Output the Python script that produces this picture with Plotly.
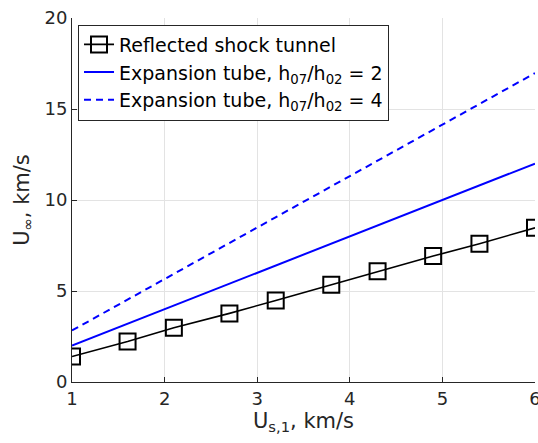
import plotly.graph_objects as go

# Incident shock speed (km/s) and test-flow velocity for the reflected shock tunnel
us1_rst = [1.0, 1.6, 2.1, 2.7, 3.2, 3.8, 4.3, 4.9, 5.4, 6.0]
u_inf_rst = [1.40, 2.22, 2.98, 3.77, 4.48, 5.35, 6.08, 6.92, 7.60, 8.47]

# Expansion tube estimates for two enthalpy ratios
us1_et = [1.0, 2.0, 3.0, 4.0, 5.0, 6.0]
u_inf_et2 = [2.0, 4.0, 6.0, 8.0, 10.0, 12.0]
u_inf_et4 = [2.83, 5.66, 8.49, 11.31, 14.14, 16.97]

x_ticks = [1, 2, 3, 4, 5, 6]
y_ticks = [0, 5, 10, 15, 20]

FONT = "DejaVu Sans"
INK = "#262626"

fig = go.Figure()
fig.add_trace(go.Scatter(
    x=us1_rst, y=u_inf_rst, mode="lines+markers",
    name="Reflected shock tunnel",
    line=dict(color="black", width=1.6),
    marker=dict(symbol="square-open", size=16, color="black", line=dict(width=2)),
))
fig.add_trace(go.Scatter(
    x=us1_et, y=u_inf_et2, mode="lines",
    name="Expansion tube, h<sub>07</sub>/h<sub>02</sub> = 2",
    line=dict(color="#0000ff", width=2),
))
fig.add_trace(go.Scatter(
    x=us1_et, y=u_inf_et4, mode="lines",
    name="Expansion tube, h<sub>07</sub>/h<sub>02</sub> = 4",
    line=dict(color="#0000ff", width=2, dash="7px,5px"),
))

axis_common = dict(
    showline=True, linecolor=INK, linewidth=1,
    ticks="inside", ticklen=5, tickcolor=INK,
    showgrid=True, gridcolor="#e3e3e3", gridwidth=1,
    zeroline=False, mirror=False,
    automargin=False,
    ticklabeloverflow="allow",
    tickfont=dict(family=FONT, size=18, color=INK),
)

fig.update_layout(
    width=538, height=443,
    margin=dict(l=72, r=3, t=18, b=61),
    paper_bgcolor="white", plot_bgcolor="white",
    font=dict(family=FONT, color=INK),
    showlegend=True,
    legend=dict(
        x=0.013, y=0.982, xanchor="left", yanchor="top",
        bgcolor="white", bordercolor=INK, borderwidth=1,
        font=dict(family=FONT, size=19, color="black"),
        itemwidth=30, tracegroupgap=0,
    ),
    xaxis=dict(
        range=[1, 6], tickvals=x_ticks,
        title=dict(text="U<sub>s,1</sub>, km/s", font=dict(family=FONT, size=21, color=INK), standoff=2),
        **axis_common,
    ),
    yaxis=dict(
        range=[0, 20], tickvals=y_ticks,
        title=dict(text="U<sub>∞</sub>, km/s", font=dict(family=FONT, size=21, color=INK), standoff=9),
        **axis_common,
    ),
)

fig.write_html("out.html")
